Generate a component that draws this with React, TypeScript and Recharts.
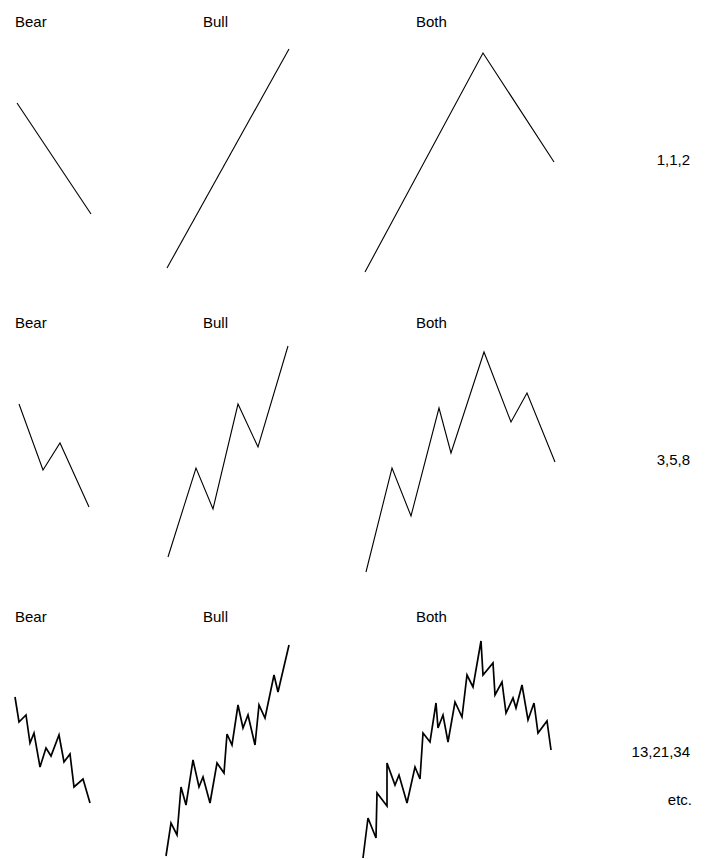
import { ComposedChart, Line, XAxis, YAxis } from "recharts";

// points: x across the page, y downwards
type Pt = { x: number; y: number };
const toPts = (arr: number[][]): Pt[] => arr.map(([x, y]) => ({ x, y }));

const bear1 = toPts([[17, 103], [91, 214]]);
const bull1 = toPts([[167, 268], [289, 49]]);
const both1 = toPts([[365, 272], [483, 53], [554, 162]]);

const bear2 = toPts([[19, 404], [43, 470], [60, 443], [89, 507]]);
const bull2 = toPts([[168, 557], [196, 468], [213, 509], [238, 404], [258, 447], [288, 346]]);
const both2 = toPts([[366, 572], [392, 468], [411, 516], [439, 408], [451, 453], [484, 352], [511, 422], [527, 393], [555, 462]]);

const bear3 = toPts([
  [15, 697], [19, 722], [26, 715], [30, 743], [34, 733], [40, 767], [46, 748],
  [51, 756], [59, 735], [64, 762], [70, 754], [74, 787], [83, 779], [90, 803],
]);
const bull3 = toPts([
  [166, 856], [171, 823], [177, 835], [181, 787], [186, 805], [193, 760],
  [199, 787], [203, 777], [210, 803], [217, 763], [224, 773], [227, 734],
  [232, 745], [238, 705], [243, 728], [248, 715], [255, 745], [259, 705],
  [265, 718], [274, 675], [278, 692], [289, 645],
]);
const both3 = toPts([
  [363, 858], [368, 818], [376, 838], [377, 793], [387, 806], [387, 763],
  [395, 785], [399, 775], [407, 803], [415, 767], [420, 779], [423, 733],
  [430, 742], [436, 703], [438, 728], [443, 715], [448, 742], [455, 702],
  [462, 717], [467, 675], [473, 687], [481, 641], [483, 675], [493, 663],
  [495, 695], [502, 682], [506, 713], [513, 698], [516, 708], [522, 685],
  [528, 720], [534, 703], [538, 733], [547, 721], [551, 750],
]);

const columnTitles = ["Bear", "Bull", "Both"];
const titleX = [15, 203, 416];
const rowTitleY = [22, 323, 617];
const counts = ["1,1,2", "3,5,8", "13,21,34", "etc."];
const countPos = [[690, 160], [690, 460], [690, 752], [692, 800]];

const thin = [bear1, bull1, both1, bear2, bull2, both2];
const thick = [bear3, bull3, both3];

const W = 709;
const H = 859;

export default function App() {
  return (
    <div
      style={{
        position: "absolute",
        left: 0,
        top: 0,
        width: W,
        height: H,
        background: "#fff",
        fontFamily: "'Liberation Sans', Arial, sans-serif",
        fontSize: 15,
        color: "#000",
      }}
    >
      <ComposedChart width={W} height={H} margin={{ top: 0, right: 0, bottom: 0, left: 0 }}>
        <XAxis type="number" dataKey="x" domain={[0, W]} hide allowDataOverflow />
        <YAxis type="number" dataKey="y" domain={[0, H]} reversed hide allowDataOverflow />
        {thin.map((d, i) => (
          <Line
            key={"t" + i}
            data={d}
            dataKey="y"
            type="linear"
            stroke="#000"
            strokeWidth={1.1}
            dot={false}
            activeDot={false}
            isAnimationActive={false}
          />
        ))}
        {thick.map((d, i) => (
          <Line
            key={"k" + i}
            data={d}
            dataKey="y"
            type="linear"
            stroke="#000"
            strokeWidth={1.7}
            dot={false}
            activeDot={false}
            isAnimationActive={false}
          />
        ))}
      </ComposedChart>
      {rowTitleY.map((ty) =>
        columnTitles.map((t, j) => (
          <div
            key={t + ty}
            style={{ position: "absolute", left: titleX[j], top: ty - 9, lineHeight: "18px" }}
          >
            {t}
          </div>
        ))
      )}
      {counts.map((c, i) => (
        <div
          key={c}
          style={{
            position: "absolute",
            right: W - countPos[i][0],
            top: countPos[i][1] - 9,
            lineHeight: "18px",
            textAlign: "right",
          }}
        >
          {c}
        </div>
      ))}
    </div>
  );
}
